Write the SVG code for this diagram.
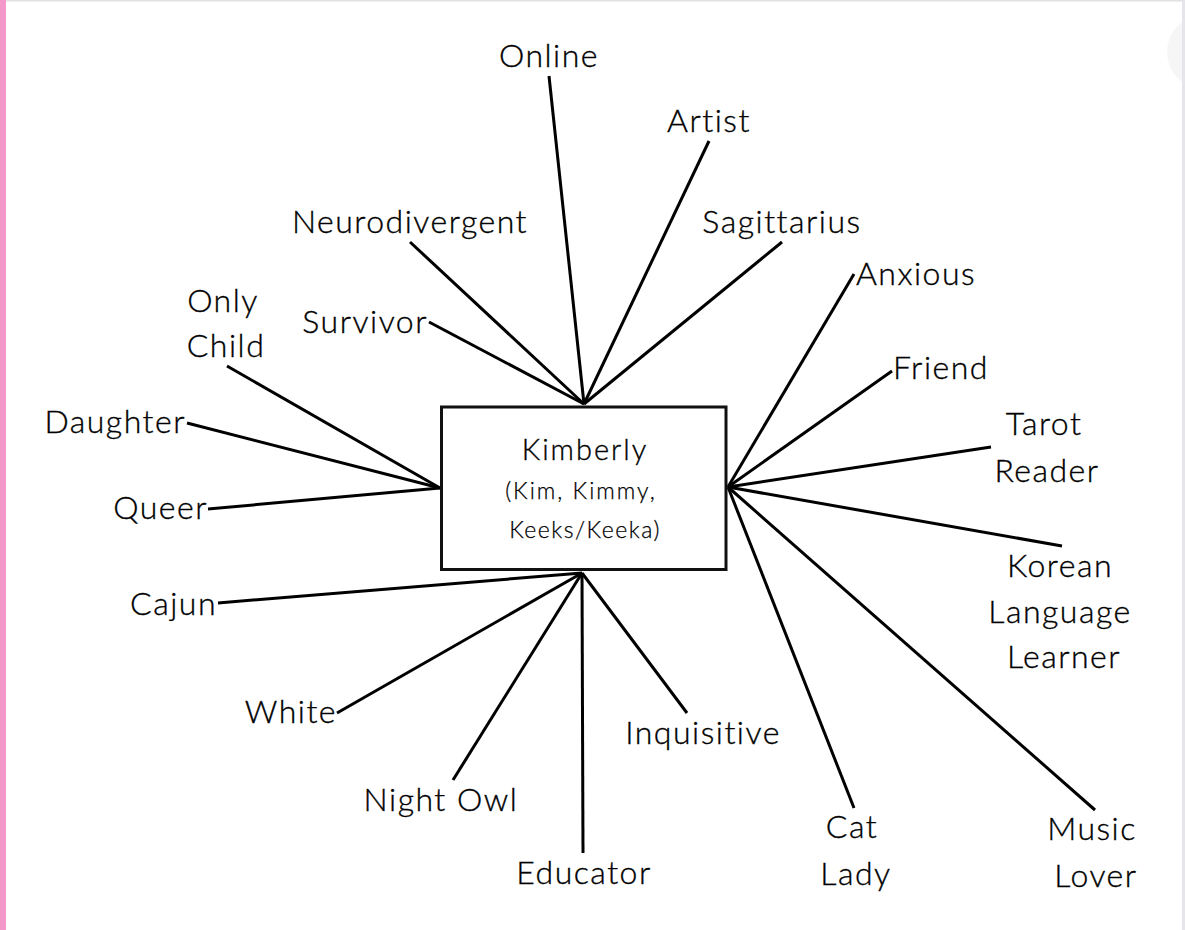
<svg xmlns="http://www.w3.org/2000/svg" width="1185" height="930" viewBox="0 0 1185 930">
<style>
.l{font-family:Lato,"Open Sans",sans-serif;font-size:32px;font-weight:300;letter-spacing:1.5px;fill:#000;stroke:#000;stroke-width:0.35px;}
.m{text-anchor:middle;}
.e{text-anchor:end;}
.c line{stroke:#000;stroke-width:3;stroke-linecap:butt;}
</style>
<rect x="0" y="0" width="1185" height="930" fill="#fff"/>
<circle cx="1205" cy="52" r="38" fill="#f6f6f7"/>
<rect x="0" y="0" width="1185" height="1.5" fill="#e2e2e4"/>
<rect x="1182" y="0" width="3" height="930" fill="#e6e6ea"/>
<rect x="0" y="0" width="6" height="930" fill="#f497c9"/>
<g class="c" id="connectors">
<line x1="584" y1="404" x2="549" y2="76"/>
<line x1="584" y1="404" x2="709" y2="141"/>
<line x1="584" y1="404" x2="782" y2="242"/>
<line x1="584" y1="404" x2="410" y2="242"/>
<line x1="584" y1="404" x2="429" y2="322"/>
<line x1="440" y1="488" x2="227" y2="366"/>
<line x1="440" y1="488" x2="187" y2="423"/>
<line x1="440" y1="488" x2="208" y2="509"/>
<line x1="728" y1="487" x2="854" y2="274"/>
<line x1="728" y1="487" x2="892" y2="371"/>
<line x1="728" y1="487" x2="991" y2="447"/>
<line x1="728" y1="487" x2="1062" y2="546"/>
<line x1="728" y1="487" x2="854" y2="808"/>
<line x1="728" y1="487" x2="1095" y2="810"/>
<line x1="582" y1="573" x2="218" y2="603"/>
<line x1="582" y1="573" x2="337" y2="713"/>
<line x1="582" y1="573" x2="453" y2="780"/>
<line x1="582" y1="573" x2="583" y2="853"/>
<line x1="582" y1="573" x2="687" y2="713"/>
</g>
<g id="center">
<rect x="441.5" y="407" width="284.5" height="162.5" fill="#fff" stroke="#111" stroke-width="3"/>
<text class="l m" x="585" y="460" style="font-size:29px;letter-spacing:2px">Kimberly</text>
<text class="l m" x="581" y="499" style="font-size:23px;letter-spacing:2px;stroke-width:0.25px">(Kim, Kimmy,</text>
<text class="l m" x="585" y="538" style="font-size:23px;letter-spacing:1.5px;stroke-width:0.25px">Keeks/Keeka)</text>
</g>
<g id="online"><text class="l m" x="549" y="67">Online</text></g>
<g id="artist"><text class="l m" x="709" y="132">Artist</text></g>
<g id="sagittarius"><text class="l m" x="782" y="233">Sagittarius</text></g>
<g id="neurodivergent"><text class="l m" x="410" y="233">Neurodivergent</text></g>
<g id="survivor"><text class="l e" x="428" y="333">Survivor</text></g>
<g id="onlychild"><text class="l m" x="223" y="312">Only</text><text class="l m" x="226" y="357">Child</text></g>
<g id="daughter"><text class="l e" x="186" y="433">Daughter</text></g>
<g id="queer"><text class="l e" x="208" y="519">Queer</text></g>
<g id="anxious"><text class="l" x="856" y="285">Anxious</text></g>
<g id="friend"><text class="l" x="893" y="379">Friend</text></g>
<g id="tarot"><text class="l m" x="1044" y="435">Tarot</text><text class="l m" x="1047" y="482">Reader</text></g>
<g id="korean"><text class="l m" x="1060" y="577">Korean</text><text class="l m" x="1060" y="623">Language</text><text class="l m" x="1064" y="668">Learner</text></g>
<g id="catlady"><text class="l m" x="852" y="838">Cat</text><text class="l m" x="856" y="885">Lady</text></g>
<g id="musiclover"><text class="l m" x="1092" y="840">Music</text><text class="l m" x="1096" y="887">Lover</text></g>
<g id="cajun"><text class="l e" x="217" y="615">Cajun</text></g>
<g id="white"><text class="l e" x="337" y="723">White</text></g>
<g id="nightowl"><text class="l m" x="441" y="811">Night Owl</text></g>
<g id="educator"><text class="l m" x="584" y="884">Educator</text></g>
<g id="inquisitive"><text class="l m" x="703" y="744">Inquisitive</text></g>
</svg>
